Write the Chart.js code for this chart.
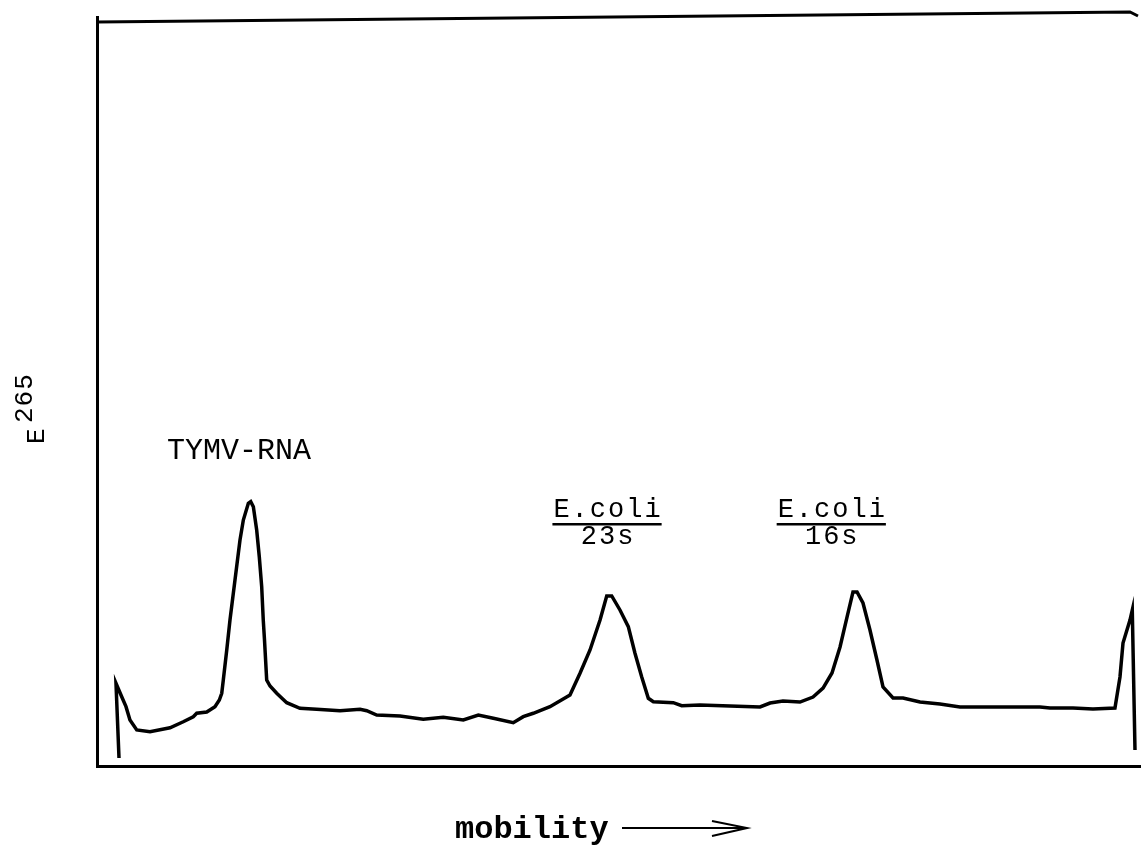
<!DOCTYPE html>
<html>
<head>
<meta charset="utf-8">
<title>E265 vs mobility</title>
<script src="https://cdn.jsdelivr.net/npm/chart.js@4.4.1/dist/chart.umd.min.js"></script>
<style>
  html, body { margin: 0; padding: 0; background: #fff; }
  #wrap { width: 1147px; height: 845px; position: relative; }
</style>
</head>
<body>
<div id="wrap"><canvas id="grafik"></canvas></div>
<script>
// densitometer trace (mobility 0-100, E265 relative 0-100)
const mobility = [
  2.11, 1.82, 2.37, 2.78, 3.16, 3.81, 5.08, 7.00, 8.27, 9.23, 9.56, 10.52, 11.31, 11.73, 11.96, 12.11,
  12.44, 12.75, 13.23, 13.71, 14.03, 14.51, 14.74, 14.99, 15.31, 15.56, 15.79, 15.94, 16.06, 16.27,
  16.59, 17.23, 18.19, 19.46, 21.06, 23.30, 25.22, 25.86, 26.82, 29.05, 31.28, 33.20, 35.12, 36.56,
  38.00, 39.91, 40.87, 41.83, 43.43, 45.35, 46.31, 47.27, 48.23, 48.87, 49.35, 50.14, 50.94, 51.58,
  52.22, 52.86, 53.34, 55.25, 56.06, 57.81, 60.69, 63.57, 64.53, 65.77, 67.40, 68.65, 69.61, 70.47,
  71.24, 71.91, 72.48, 72.87, 73.44, 74.11, 74.78, 75.36, 76.32, 77.28, 78.91, 80.82, 82.74, 86.58,
  90.41, 91.37, 93.58, 95.49, 97.60, 98.08, 98.37, 99.04, 99.26, 99.52
];
const extinction = [
  1.07, 11.05, 9.25, 7.92, 6.14, 4.81, 4.58, 5.11, 5.91, 6.58, 7.04, 7.21, 7.92, 8.81, 9.71, 11.48,
  15.49, 19.49, 24.83, 30.17, 32.84, 35.07, 35.29, 34.62, 31.51, 27.94, 23.94, 19.49, 16.82, 11.48,
  10.68, 9.71, 8.45, 7.70, 7.57, 7.38, 7.57, 7.38, 6.81, 6.68, 6.24, 6.50, 6.14, 6.81,
  6.37, 5.78, 6.58, 7.04, 7.92, 9.48, 12.38, 15.49, 19.49, 22.70, 22.70, 20.83, 18.60, 15.05,
  11.92, 9.04, 8.58, 8.45, 8.05, 8.14, 8.01, 7.88, 8.41, 8.68, 8.54, 9.21, 10.41, 12.42,
  15.89, 19.89, 23.23, 23.23, 21.76, 18.16, 14.15, 10.55, 9.08, 9.08, 8.54, 8.28, 7.88, 7.88,
  7.88, 7.74, 7.74, 7.61, 7.74, 11.88, 16.42, 19.49, 20.83, 2.14
];

// peak names and where they sit (data coords)
const peakNames = ["TYMV-RNA", "E.coli", "E.coli"];
const peakSub = ["", "23s", "16s"];
const peakPos = [6.7, 48.9, 70.4];
const peakLevel = [41.0, 33.2, 33.2];

const titikData = mobility.map((m, i) => ({ x: m, y: extinction[i] }));

const FONT = '"Liberation Mono", "DejaVu Sans Mono", monospace';

// text + top frame line
const teksPlugin = {
  id: "teks",
  afterDraw(chart) {
    const { ctx, chartArea } = chart;
    const sx = chart.scales.x, sy = chart.scales.y;
    ctx.save();

    // top border of the frame (slightly slanted like the scan)
    ctx.strokeStyle = "#000";
    ctx.lineWidth = 3;
    ctx.beginPath();
    ctx.moveTo(chartArea.left, chartArea.top + 5);
    ctx.lineTo(chartArea.right - 10, chartArea.top - 5);
    ctx.lineTo(chartArea.right - 2, chartArea.top - 1);
    ctx.stroke();

    ctx.fillStyle = "#000";
    ctx.textBaseline = "alphabetic";

    peakNames.forEach((nm, i) => {
      const px = sx.getPixelForValue(peakPos[i]);
      const py = sy.getPixelForValue(peakLevel[i]);
      if (!peakSub[i]) {
        ctx.font = "30px " + FONT;
        ctx.letterSpacing = "0px";
        ctx.textAlign = "left";
        ctx.fillText(nm, px, py);
        return;
      }
      ctx.font = "27px " + FONT;
      ctx.letterSpacing = "2px";
      ctx.textAlign = "center";
      ctx.fillText(nm, px + 1, py);
      const w = ctx.measureText(nm).width;
      ctx.lineWidth = 2.5;
      ctx.beginPath();
      ctx.moveTo(px - w / 2, py + 7);
      ctx.lineTo(px + w / 2, py + 7);
      ctx.stroke();
      ctx.fillText(peakSub[i], px + 1, py + 27);
    });

    // x label with arrow
    ctx.letterSpacing = "0px";
    ctx.font = "bold 32px " + FONT;
    ctx.textAlign = "left";
    ctx.fillText("mobility", 455, 838);
    ctx.lineWidth = 2;
    ctx.beginPath();
    ctx.moveTo(622, 828);
    ctx.lineTo(745, 828);
    ctx.moveTo(712, 821);
    ctx.lineTo(747, 828);
    ctx.lineTo(712, 836);
    ctx.stroke();

    // y label E265, rotated
    ctx.translate(44, 444);
    ctx.rotate(-Math.PI / 2);
    ctx.font = "26px " + FONT;
    ctx.fillText("E", 0, 0);
    ctx.letterSpacing = "1px";
    ctx.fillText("265", 21, -12);
    ctx.restore();
  }
};

new Chart(document.getElementById("grafik"), {
  type: "line",
  data: {
    datasets: [{
      label: "E265",
      data: titikData,
      borderColor: "#000",
      borderWidth: 3.5,
      pointRadius: 0,
      tension: 0,
      fill: false
    }]
  },
  options: {
    responsive: true,
    maintainAspectRatio: false,
    animation: false,
    devicePixelRatio: 1,
    layout: { padding: { left: 97, right: 7, top: 17, bottom: 79 } },
    plugins: { legend: { display: false }, tooltip: { enabled: false } },
    scales: {
      x: {
        type: "linear", min: 0, max: 100,
        grid: { display: false, drawTicks: false },
        ticks: { display: false },
        border: { display: true, color: "#000", width: 3 }
      },
      y: {
        min: 0, max: 100,
        grid: { display: false, drawTicks: false },
        ticks: { display: false },
        border: { display: true, color: "#000", width: 3 }
      }
    }
  },
  plugins: [teksPlugin]
});
</script>
</body>
</html>
